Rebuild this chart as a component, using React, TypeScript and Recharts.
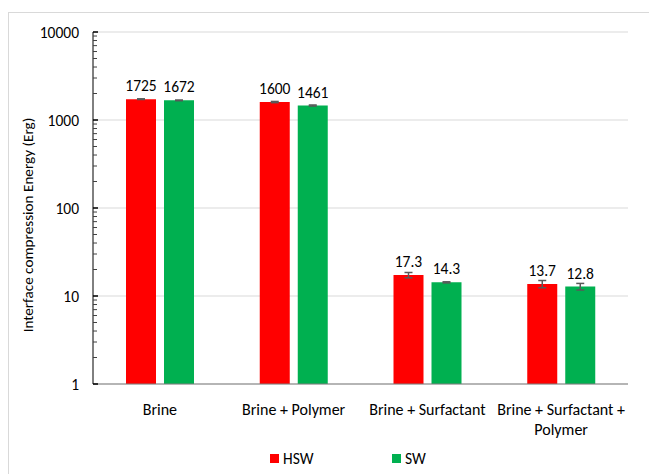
import { BarChart, Bar, XAxis, YAxis, CartesianGrid, ErrorBar, LabelList } from 'recharts';

const categories = ['Brine', 'Brine + Polymer', 'Brine + Surfactant', 'Brine + Surfactant + Polymer'];
const hswValues = [1725, 1600, 17.3, 13.7];
const swValues = [1672, 1461, 14.3, 12.8];
const hswErrors = [15, 25, 1.2, 1.3];
const swErrors = [15, 20, 0.2, 1.1];
const majorTicks = [1, 10, 100, 1000, 10000];
const minorTicks = [
  1, 2, 3, 4, 5, 6, 7, 8, 9,
  10, 20, 30, 40, 50, 60, 70, 80, 90,
  100, 200, 300, 400, 500, 600, 700, 800, 900,
  1000, 2000, 3000, 4000, 5000, 6000, 7000, 8000, 9000, 10000,
];

const data = categories.map((name, i) => ({
  name,
  HSW: hswValues[i],
  SW: swValues[i],
  hswErr: hswErrors[i],
  swErr: swErrors[i],
}));

const FONT = 'Carlito, Calibri, Lato, sans-serif';

const CategoryTick = (props: any) => {
  const { x, y, payload } = props;
  const text: string = payload.value;
  const lines = text === 'Brine + Surfactant + Polymer' ? ['Brine + Surfactant +', 'Polymer'] : [text];
  return (
    <text x={x} y={y + 31} textAnchor="middle" fontSize={16} fill="#000" fontFamily={FONT}>
      {lines.map((l, i) => (
        <tspan key={i} x={x} dy={i === 0 ? 0 : 20}>
          {l}
        </tspan>
      ))}
    </text>
  );
};

const MinorTick = (props: any) => {
  const { x, y, payload } = props;
  const major = majorTicks.includes(payload.value);
  return <line x1={x} x2={x + (major ? 5 : 4)} y1={y} y2={y} stroke={major ? '#000' : '#404040'} strokeWidth={major ? 1.5 : 1} />;
};

const LegendContent = () => (
  <div style={{ display: 'flex', height: 20, alignItems: 'center', fontFamily: FONT, fontSize: 15.5, color: '#000', paddingLeft: 270 }}>
    <span style={{ width: 9, height: 9, background: '#FF0000', display: 'inline-block', marginRight: 4 }} />
    <span style={{ width: 109 }}>HSW</span>
    <span style={{ width: 9, height: 9, background: '#00B050', display: 'inline-block', marginRight: 4 }} />
    <span>SW</span>
  </div>
);

export default function App() {
  return (
    <div style={{ position: 'absolute', left: 0, top: 0, width: 649, height: 474, background: '#fff' }}>
      <div style={{ position: 'absolute', left: 8, top: 12, right: 0, bottom: 0, borderLeft: '1px solid #D9D9D9', borderTop: '1px solid #D9D9D9' }} />
      <div style={{ position: 'absolute', left: 0, top: 0 }}>
        <BarChart
          width={649}
          height={474}
          data={data}
          margin={{ top: 32, right: 21, left: 0, bottom: 26 }}
          barGap={8}
          barSize={30}
          style={{ fontFamily: FONT }}
        >
          <CartesianGrid vertical={false} stroke="#D9D9D9" strokeWidth={1} />
          <XAxis
            dataKey="name"
            tick={<CategoryTick />}
            tickLine={false}
            tickSize={0}
            tickMargin={0}
            height={64}
            axisLine={{ stroke: '#7F7F7F' }}
            interval={0}
          />
          <XAxis xAxisId="top" orientation="top" dataKey="name" height={0} tick={false} tickLine={false} axisLine={{ stroke: '#000' }} />
          <YAxis
            scale="log"
            domain={[1, 10000]}
            ticks={majorTicks}
            allowDataOverflow
            width={93}
            tickLine={false}
            axisLine={{ stroke: '#000' }}
            tick={{ fontSize: 15.5, fill: '#000', fontFamily: FONT }}
            tickMargin={14}
            tickSize={0}
          />
          <YAxis
            yAxisId="minor"
            scale="log"
            domain={[1, 10000]}
            ticks={minorTicks}
            allowDataOverflow
            mirror
            width={10}
            tick={<MinorTick />}
            tickSize={0}
            tickMargin={0}
            tickLine={false}
            axisLine={false}
            interval={0}
          />
          <YAxis yAxisId="right" orientation="right" width={0} tick={false} tickLine={false} axisLine={{ stroke: '#595959' }} />
          <Bar dataKey="HSW" fill="#FF0000" isAnimationActive={false}>
            <ErrorBar dataKey="hswErr" width={4} stroke="#595959" strokeWidth={1.5} />
            <LabelList dataKey="HSW" position="top" offset={8} fontSize={15.5} fill="#000" fontFamily={FONT} />
          </Bar>
          <Bar dataKey="SW" fill="#00B050" isAnimationActive={false}>
            <ErrorBar dataKey="swErr" width={4} stroke="#595959" strokeWidth={1.5} />
            <LabelList dataKey="SW" position="top" offset={8} fontSize={15.5} fill="#000" fontFamily={FONT} />
          </Bar>
        </BarChart>
        <div
          style={{
            position: 'absolute',
            left: 28,
            top: 225,
            transform: 'translate(-50%, -50%) rotate(-90deg)',
            whiteSpace: 'nowrap',
            fontFamily: FONT,
            fontSize: 15.2,
            color: '#000',
          }}
        >
          Interface compression Energy (Erg)
        </div>
        <div style={{ position: 'absolute', left: 0, top: 448 }}>
          <LegendContent />
        </div>
      </div>
    </div>
  );
}
